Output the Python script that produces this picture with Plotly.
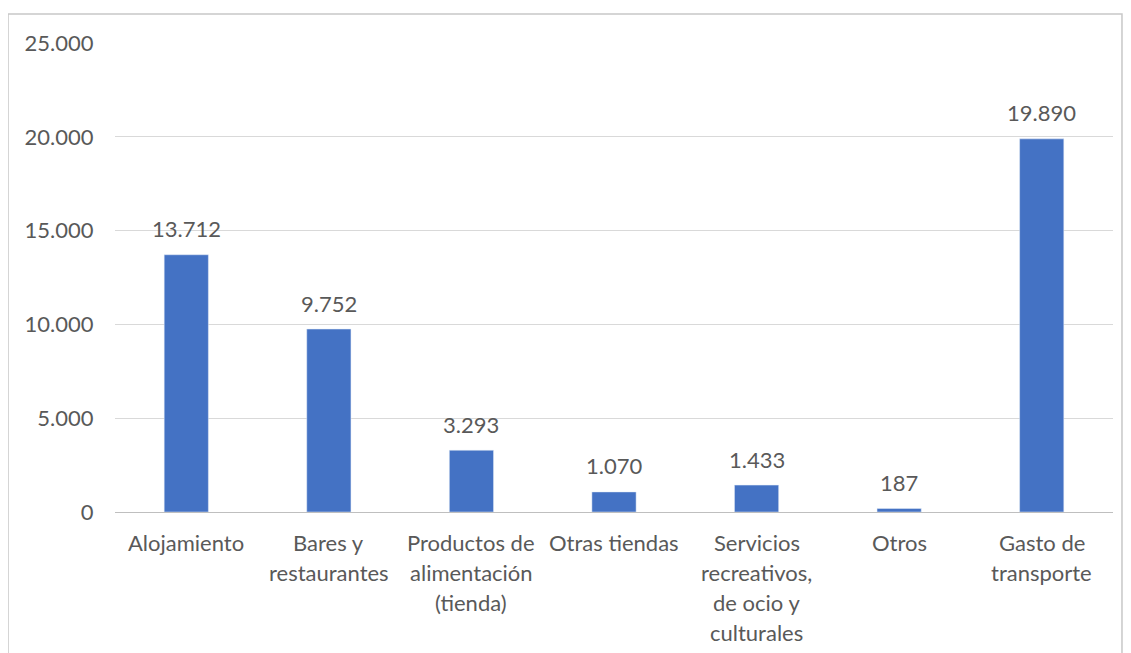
import plotly.graph_objects as go

categories = ["Alojamiento", "Bares y restaurantes", "Productos de alimentación (tienda)",
              "Otras tiendas", "Servicios recreativos, de ocio y culturales", "Otros",
              "Gasto de transporte"]
label_lines = [["Alojamiento"], ["Bares y", "restaurantes"],
               ["Productos de", "alimentación", "(tienda)"], ["Otras tiendas"],
               ["Servicios", "recreativos,", "de ocio y", "culturales"], ["Otros"],
               ["Gasto de", "transporte"]]
values = [13712, 9752, 3293, 1070, 1433, 187, 19890]
y_ticks = [0, 5000, 10000, 15000, 20000, 25000]

FONT = "Lato"
TXT = "#595959"
FS = 22

def fmt(v):
    return f"{v:,}".replace(",", ".")

fig = go.Figure(go.Bar(x=categories, y=values, marker_color="#4472C4", width=0.31,
                       hoverinfo="skip"))

ann = []
for c, v in zip(categories, values):
    ann.append(dict(x=c, y=v, xref="x", yref="y", text=fmt(v), showarrow=False,
                    yanchor="middle", yshift=26, font=dict(family=FONT, size=FS, color=TXT)))
for c, lines in zip(categories, label_lines):
    for i, ln in enumerate(lines):
        ann.append(dict(x=c, y=0, xref="x", yref="y", text=ln, showarrow=False,
                        yanchor="middle", yshift=-(30 + 30 * i),
                        font=dict(family=FONT, size=FS, color=TXT)))

fig.update_layout(
    width=1123, height=645,
    margin=dict(l=107, r=18, t=35, b=141),
    paper_bgcolor="white", plot_bgcolor="white",
    separators=",.",
    showlegend=False,
    font=dict(family=FONT, size=FS, color=TXT),
    annotations=ann,
    xaxis=dict(showticklabels=False, showgrid=False, showline=False, zeroline=False,
               range=[-0.5, 6.5]),
    yaxis=dict(range=[0, 25000], tickvals=y_ticks,
               ticktext=[fmt(t) for t in y_ticks],
               showgrid=True, gridcolor="#d9d9d9", gridwidth=1,
               zeroline=True, zerolinecolor="#bfbfbf", zerolinewidth=1,
               showline=False, ticks="outside", ticklen=16, tickcolor="rgba(0,0,0,0)",
               tickfont=dict(family=FONT, size=FS, color=TXT)),
    shapes=[dict(type="rect", xref="paper", yref="paper",
                 x0=-0.1072, x1=1.009, y0=-0.33, y1=1.0618,
                 line=dict(color="#c8c8c8", width=1.5), layer="below")],
)

fig.write_html("out.html")
